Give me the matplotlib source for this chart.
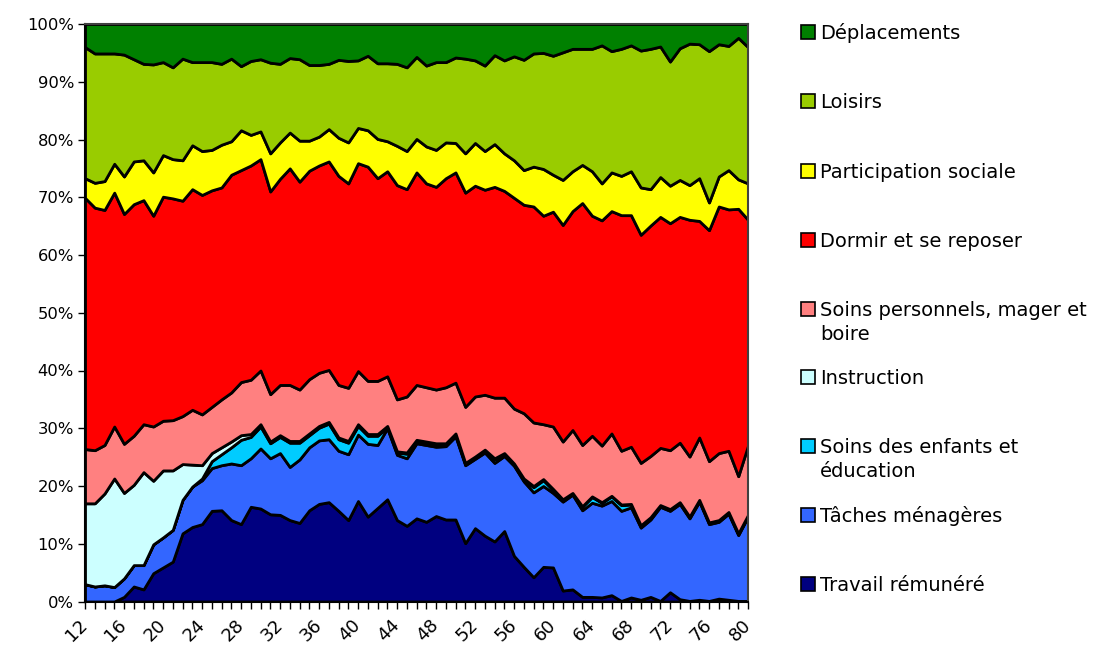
import matplotlib
matplotlib.use("Agg")
import matplotlib.pyplot as plt
from matplotlib.patches import Rectangle
from matplotlib.transforms import ScaledTranslation
import numpy as np

plt.rcParams['font.family'] = ['DejaVu Sans']

ages = list(range(12, 81))

travail = [0.0, 0.0, 0.0, 0.0, 0.8, 2.6, 2.1, 4.9, 5.9, 6.9, 11.8, 12.9, 13.4, 15.7, 15.8, 14.1, 13.4, 16.4,
           16.1, 15.1, 15.0, 14.1, 13.6, 15.8, 16.9, 17.2, 15.7, 14.1, 17.4, 14.7, 16.2, 17.7, 14.1, 13.1,
           14.4, 13.8, 14.8, 14.2, 14.2, 10.1, 12.7, 11.4, 10.4, 12.2, 7.9, 6.0, 4.2, 6.0, 5.9, 1.9, 2.1,
           0.8, 0.8, 0.7, 1.1, 0.1, 0.7, 0.3, 0.8, 0.1, 1.6, 0.4, 0.1, 0.3, 0.1, 0.5, 0.3, 0.1, 0.1]
taches = [3.0, 2.6, 2.8, 2.5, 3.2, 3.7, 4.2, 5.0, 5.2, 5.5, 5.8, 7.0, 7.6, 7.4, 7.8, 9.8, 10.2, 8.4,
          10.4, 9.7, 10.7, 9.2, 11.0, 10.9, 11.0, 10.9, 10.4, 11.4, 11.5, 12.6, 10.9, 12.3, 11.3, 11.7,
          13.0, 13.3, 12.0, 12.7, 14.4, 13.5, 12.0, 14.4, 13.6, 13.0, 15.6, 14.8, 14.7, 14.0, 12.9, 15.4,
          16.4, 15.0, 16.3, 15.9, 16.3, 15.6, 15.6, 12.5, 13.4, 16.3, 14.1, 16.5, 14.3, 17.0, 13.3, 13.3,
          14.9, 11.4, 14.6]
enfants = [0.0, 0.0, 0.0, 0.0, 0.0, 0.0, 0.0, 0.0, 0.0, 0.0, 0.0, 0.0, 0.3, 1.2, 1.9, 2.8, 4.4, 3.7,
           3.8, 2.6, 2.8, 4.2, 2.9, 2.1, 2.2, 2.7, 2.0, 2.0, 1.5, 1.4, 1.6, 0.2, 0.4, 0.8,
           0.4, 0.4, 0.4, 0.3, 0.3, 0.2, 0.2, 0.3, 0.6, 0.3, 0.2, 0.3, 0.9, 1.0, 0.5, 0.3, 0.2,
           0.6, 1.0, 0.5, 0.8, 1.0, 0.5, 0.3, 0.3, 0.2, 0.2, 0.2, 0.2, 0.2, 0.2, 0.2, 0.2, 0.2, 0.2]
instruction = [14.0, 14.4, 15.9, 18.8, 14.8, 13.9, 16.1, 11.0, 11.6, 10.3, 6.2, 3.8, 2.3, 1.4, 1.2, 1.0,
               0.8, 0.5, 0.4, 0.3, 0.3, 0.3, 0.3, 0.3, 0.3, 0.3, 0.3, 0.3, 0.3, 0.3, 0.3, 0.2, 0.2, 0.2,
               0.2, 0.2, 0.2, 0.2, 0.2, 0.2, 0.2, 0.2, 0.2, 0.2, 0.2, 0.2, 0.2, 0.2, 0.2, 0.1, 0.1,
               0.1, 0.1, 0.1, 0.1, 0.1, 0.1, 0.1, 0.1, 0.1, 0.1, 0.1, 0.1, 0.1, 0.1, 0.1, 0.1, 0.1, 0.1]
soins_perso = [9.4, 9.2, 8.4, 9.0, 8.5, 8.5, 8.3, 9.4, 8.6, 8.7, 8.3, 9.5, 8.8, 8.0, 8.3, 8.5, 9.2, 9.4,
               9.3, 8.2, 8.7, 9.7, 8.9, 9.4, 9.2, 9.0, 9.1, 9.2, 9.2, 9.2, 9.2, 8.6, 9.0, 9.7,
               9.5, 9.4, 9.3, 9.7, 8.8, 9.7, 10.4, 9.5, 10.5, 9.6, 9.5, 11.3, 11.0, 9.5, 10.8, 10.0, 10.9,
               10.6, 10.5, 9.8, 10.8, 9.3, 9.9, 10.8, 10.6, 9.9, 10.2, 10.3, 10.4, 10.8, 10.6, 11.6,
               10.6, 9.9, 12.0]
dormir = [43.5, 42.0, 40.7, 40.5, 39.8, 40.1, 38.8, 36.5, 38.8, 38.4, 37.3, 38.2, 38.0, 37.5, 36.7, 37.7,
          36.7, 37.1, 36.6, 35.1, 35.7, 37.5, 36.0, 36.1, 35.9, 36.1, 36.2, 35.4, 36.0, 37.1, 35.1, 35.5,
          37.1, 35.9, 36.8, 35.3, 35.1, 36.2, 36.4, 37.1, 36.5, 35.5, 36.5, 35.8, 36.5, 36.1, 37.4, 36.1,
          37.2, 37.5, 37.9, 41.9, 38.1, 39.0, 38.5, 40.8, 40.1, 39.5, 39.9, 40.0, 39.3, 39.1, 41.0, 37.5,
          40.0, 42.7, 41.8, 46.3, 39.1]
participation = [3.4, 4.3, 5.0, 5.0, 6.5, 7.4, 6.9, 7.5, 7.2, 6.8, 7.0, 7.6, 7.6, 7.0, 7.4, 5.8, 6.9, 5.3,
                 4.8, 6.6, 6.3, 6.2, 7.1, 5.2, 5.0, 5.6, 6.6, 7.1, 6.1, 6.3, 6.8, 5.2, 6.8, 6.6, 5.8,
                 6.4, 6.4, 6.2, 5.1, 6.8, 7.4, 6.7, 7.4, 6.5, 6.5, 6.0, 6.9, 8.1, 6.4, 7.8, 6.9, 6.6,
                 7.7, 6.4, 6.7, 6.8, 7.6, 8.2, 6.3, 6.9, 6.5, 6.4, 6.0, 7.4, 4.8, 5.2, 6.8, 5.1, 6.3]
loisirs = [22.7, 22.4, 22.1, 19.1, 21.1, 17.7, 16.7, 18.7, 16.1, 15.9, 17.6, 14.4, 15.4, 15.2, 14.0, 14.3,
           11.1, 12.8, 12.5, 15.7, 13.6, 12.9, 14.1, 13.1, 12.4, 11.3, 13.5, 14.1, 11.7, 12.9, 13.1, 13.5,
           14.2, 14.5, 14.2, 14.0, 15.2, 13.9, 14.8, 16.4, 14.3, 14.8, 15.4, 16.1, 18.0, 19.1, 19.6, 20.1,
           20.6, 22.1, 21.2, 20.1, 21.2, 23.9, 21.0, 22.0, 21.8, 23.7, 24.3, 22.6, 21.5, 22.8, 24.5, 23.2,
           26.2, 22.9, 21.5, 24.5, 23.6]
deplacements = [4.0, 5.1, 5.1, 5.1, 5.3, 6.1, 6.9, 7.0, 6.6, 7.5, 6.0, 6.6, 6.6, 6.6, 6.9, 6.0, 7.3, 6.4,
                6.1, 6.7, 6.9, 5.9, 6.1, 7.1, 7.1, 6.9, 6.2, 6.4, 6.3, 5.5, 6.8, 6.8, 6.9, 7.5, 5.7,
                7.2, 6.6, 6.6, 5.8, 6.0, 6.3, 7.2, 5.4, 6.3, 5.6, 6.2, 5.1, 5.0, 5.5, 4.9, 4.3, 4.3,
                4.3, 3.7, 4.7, 4.3, 3.7, 4.6, 4.3, 3.9, 6.5, 4.2, 3.4, 3.5, 4.7, 3.5, 3.8, 2.4, 4.0]

labels = ["Travail rémunéré", "Tâches ménagères", "Soins des enfants et\néducation", "Instruction",
          "Soins personnels, mager et\nboire", "Dormir et se reposer", "Participation sociale",
          "Loisirs", "Déplacements"]
colors = ["#000080", "#3366FF", "#00CCFF", "#CCFFFF", "#FF8080", "#FF0000", "#FFFF00", "#99CC00", "#008000"]

data = np.array([travail, taches, enfants, instruction, soins_perso, dormir, participation, loisirs, deplacements])
data = data / data.sum(axis=0) * 100.0

W, H = 1101, 652
fig = plt.figure(figsize=(W / 100, H / 100), dpi=100)
ax = fig.add_axes([85 / W, 50.5 / H, (748 - 85) / W, (601.5 - 24) / H])

ax.stackplot(ages, *data, colors=colors, edgecolor="black", linewidth=2.0)

ax.set_xlim(12, 80)
ax.set_ylim(0, 100)
ax.set_yticks(np.arange(0, 101, 10))
ax.set_yticklabels([f"{v}%" for v in range(0, 101, 10)], fontsize=11.8)
ax.set_xticks(ages)
ax.set_xticklabels([str(a) if (a - 12) % 4 == 0 else "" for a in ages], fontsize=13,
                   rotation=45, ha="right", va="center", rotation_mode="anchor")
off = ScaledTranslation(-8 / 100, 0, fig.dpi_scale_trans)
for lab in ax.get_xticklabels():
    lab.set_transform(lab.get_transform() + off)
ax.tick_params(axis="x", direction="out", length=5, width=1, pad=10)
ax.tick_params(axis="y", direction="out", length=5, width=1, pad=3)
for s in ["left", "bottom"]:
    ax.spines[s].set_color("black")
    ax.spines[s].set_linewidth(1.5)
for s in ["top", "right"]:
    ax.spines[s].set_color("#404040")
    ax.spines[s].set_linewidth(1.5)

# legend (reverse order, top to bottom)
leg_y = [32, 101, 171, 240, 309, 377, 446, 515, 584]
for i, yy in enumerate(leg_y):
    idx = len(labels) - 1 - i
    yf = 1 - yy / H
    fig.patches.append(Rectangle((801 / W, yf - 7 / H), 14 / W, 14 / H,
                                 facecolor=colors[idx], edgecolor="black", linewidth=1.2,
                                 transform=fig.transFigure, figure=fig))
    for k, line in enumerate(labels[idx].split("\n")):
        fig.text(820 / W, 1 - (yy + 7 + 24 * k) / H, line, fontsize=14, va="baseline", ha="left")

fig.savefig("out.png", dpi=100)
